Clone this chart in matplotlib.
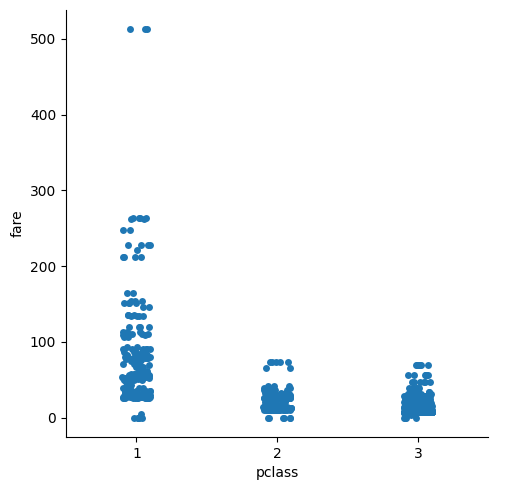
import numpy as np
import pandas as pd
import matplotlib
matplotlib.use("Agg")
import matplotlib.pyplot as plt
import seaborn as sns

# fare values read per class, with estimated counts
class1_fares = [0.0, 5.0, 25.5875, 25.925, 25.9292, 26.0, 26.2833, 26.2875, 26.3875, 26.55,
                27.4458, 27.7208, 27.75, 28.5, 28.7125, 29.7, 30.0, 30.5, 30.6958, 31.0,
                31.6792, 32.3208, 33.5, 34.0208, 34.6542, 35.0, 35.5, 38.5, 39.4, 39.6,
                40.125, 42.4, 47.1, 49.5, 49.5042, 50.0, 50.4958, 51.4792, 51.8625, 52.0,
                52.5542, 53.1, 55.0, 55.4417, 55.9, 56.9292, 57.0, 57.9792, 59.4, 61.175,
                61.9792, 63.3583, 66.6, 69.3, 71.0, 71.2833, 75.25, 76.2917, 76.7292, 77.2875,
                77.9583, 78.2667, 78.85, 79.2, 79.65, 80.0, 81.8583, 82.1708, 83.1583, 83.475,
                86.5, 89.1042, 90.0, 91.0792, 93.5, 106.425, 108.9, 110.8833, 113.275, 120.0,
                133.65, 134.5, 135.6333, 146.5208, 151.55, 153.4625, 164.8667, 211.3375, 211.5, 221.7792,
                227.525, 247.5208, 262.375, 263.0, 512.3292]
class1_counts = [5, 1, 1, 1, 2, 3, 1, 3, 1, 15,
                 1, 5, 2, 2, 1, 3, 6, 5, 2, 3,
                 1, 1, 1, 1, 1, 1, 4, 1, 1, 2,
                 1, 1, 1, 1, 2, 1, 1, 1, 2, 7,
                 3, 5, 4, 1, 2, 2, 2, 2, 1, 1,
                 1, 1, 2, 2, 2, 1, 1, 1, 3, 2,
                 3, 2, 2, 4, 3, 2, 1, 2, 3, 2,
                 3, 2, 4, 2, 2, 2, 2, 4, 3, 4,
                 2, 2, 3, 2, 4, 3, 2, 3, 1, 1,
                 4, 2, 2, 4, 3]

class2_fares = [0.0, 10.5, 11.5, 12.0, 12.35, 12.65, 12.875, 13.0, 13.5, 13.7917,
                13.8583, 14.0, 14.5, 15.0, 15.0458, 15.75, 16.0, 18.75, 19.5, 21.0,
                23.0, 24.0, 26.0, 26.25, 27.0, 27.7208, 27.75, 29.0, 30.0, 30.0708,
                31.5, 32.5, 33.0, 36.75, 37.0042, 39.0, 41.5792, 65.0, 73.5]
class2_counts = [6, 24, 4, 1, 3, 1, 1, 42, 4, 1,
                 1, 1, 6, 1, 1, 1, 1, 3, 2, 6,
                 4, 2, 26, 3, 1, 2, 4, 4, 3, 2,
                 1, 2, 3, 2, 2, 4, 3, 2, 5]

class3_fares = [0.0, 4.0125, 6.2375, 6.4375, 6.45, 6.4958, 6.75, 6.8583, 6.95, 6.975,
                7.0458, 7.05, 7.0542, 7.125, 7.1417, 7.225, 7.2292, 7.25, 7.3125, 7.4958,
                7.52, 7.55, 7.6292, 7.65, 7.725, 7.7292, 7.7333, 7.7375, 7.7417, 7.75,
                7.775, 7.7875, 7.7958, 7.8, 7.8292, 7.8542, 7.875, 7.8792, 7.8875, 7.8958,
                7.925, 8.0292, 8.05, 8.1125, 8.1375, 8.1583, 8.3625, 8.4042, 8.4333, 8.4583,
                8.5167, 8.6542, 8.6625, 8.6833, 8.7125, 9.0, 9.2167, 9.225, 9.35, 9.475,
                9.4833, 9.5, 9.5875, 9.825, 9.8375, 9.8417, 9.8458, 10.1708, 10.4625, 10.5167,
                11.1333, 11.2417, 12.2875, 12.475, 13.4167, 14.1083, 14.4, 14.4542, 14.4583, 14.5,
                15.1, 15.2458, 15.5, 15.7417, 15.85, 15.9, 16.1, 16.7, 17.4, 17.8,
                18.0, 18.7875, 19.2583, 19.9667, 20.2125, 20.25, 20.525, 20.575, 21.075, 21.6792,
                22.025, 22.3583, 23.25, 23.45, 24.15, 25.4667, 27.9, 29.125, 31.275, 31.3875,
                34.375, 39.6875, 46.9, 56.4958, 69.55]
class3_counts = [4, 1, 1, 1, 1, 2, 2, 1, 1, 2,
                 1, 7, 2, 4, 1, 12, 15, 13, 1, 3,
                 1, 4, 1, 4, 1, 1, 4, 2, 1, 34,
                 16, 1, 6, 1, 2, 13, 1, 4, 1, 38,
                 18, 1, 43, 1, 1, 1, 1, 1, 1, 1,
                 2, 1, 13, 1, 1, 2, 1, 2, 2, 1,
                 1, 9, 2, 2, 1, 1, 1, 1, 2, 1,
                 3, 2, 1, 4, 1, 1, 1, 7, 3, 7,
                 1, 4, 8, 1, 4, 2, 9, 2, 1, 2,
                 3, 2, 4, 1, 2, 2, 3, 2, 4, 1,
                 1, 2, 2, 4, 8, 4, 6, 5, 7, 4,
                 4, 6, 6, 7, 7]

pclass_levels = [1, 2, 3]

fares = [class1_fares, class2_fares, class3_fares]
counts = [class1_counts, class2_counts, class3_counts]
frames = []
for lvl, f, c in zip(pclass_levels, fares, counts):
    vals = np.repeat(np.array(f), np.array(c))
    frames.append(pd.DataFrame({"pclass": lvl, "fare": vals}))
df = pd.concat(frames, ignore_index=True)

np.random.seed(0)
fig = plt.figure(figsize=(5.07, 4.9), dpi=100)
ax = fig.add_axes([66 / 507, 53 / 490, (488.5 - 66) / 507, (437 - 10) / 490])
sns.stripplot(data=df, x="pclass", y="fare", color="#1f77b4", ax=ax)
sns.despine(ax=ax)
ax.set_xlabel("pclass")
ax.set_ylabel("fare")
ax.set_yticks([0, 100, 200, 300, 400, 500])
fig.savefig("out.png", dpi=100)
